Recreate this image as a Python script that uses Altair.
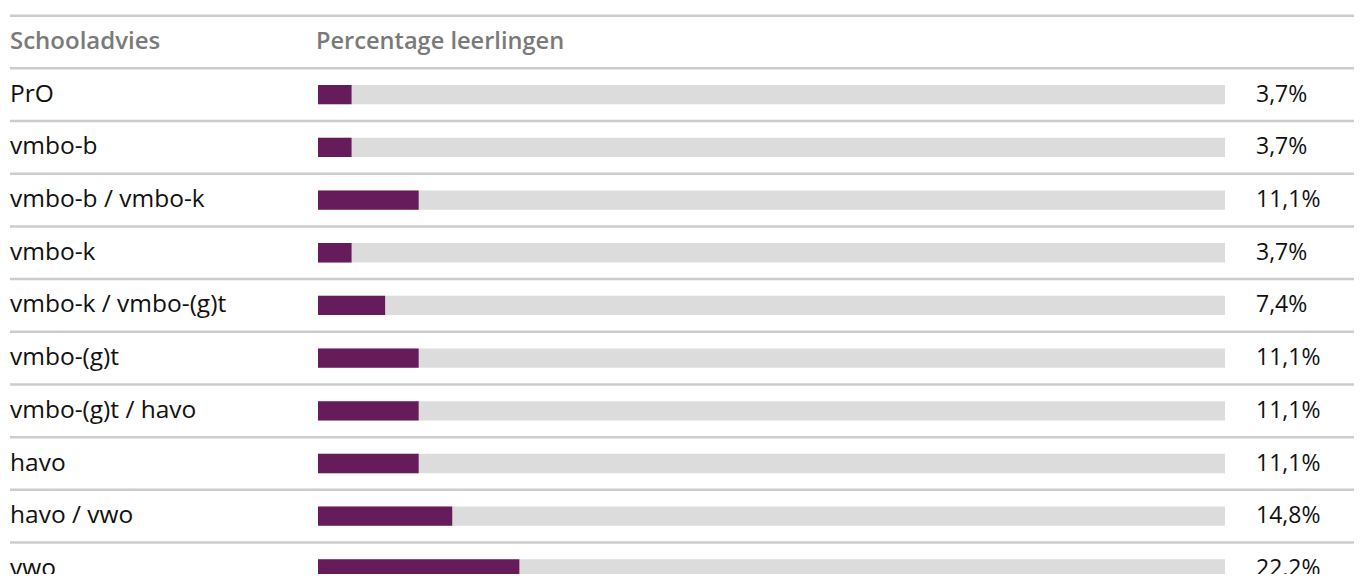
import altair as alt
import pandas as pd

categories = ["PrO", "vmbo-b", "vmbo-b / vmbo-k", "vmbo-k", "vmbo-k / vmbo-(g)t",
              "vmbo-(g)t", "vmbo-(g)t / havo", "havo", "havo / vwo", "vwo"]
values = [3.7, 3.7, 11.1, 3.7, 7.4, 11.1, 11.1, 11.1, 14.8, 22.2]
value_labels = ["3,7%", "3,7%", "11,1%", "3,7%", "7,4%", "11,1%", "11,1%", "11,1%", "14,8%", "22,2%"]
headers = ["Schooladvies", "Percentage leerlingen"]

df = pd.DataFrame({
    "cat": categories,
    "value": values,
    "label": value_labels,
    "row": list(range(1, len(categories) + 1)),
})
df["full"] = 100.0

lines = pd.DataFrame({"pos": [i - 0.5 for i in range(0, len(categories) + 1)]})
hdr = pd.DataFrame({"text": headers, "row": [0, 0], "col": [0, 1]})

FONT = "Open Sans"
yscale = alt.Scale(domain=[0, 10], range=[29.0, 565.9])
xscale = alt.Scale(domain=[0, 100], range=[310, 1217])
Y = alt.Y("row:Q", scale=yscale, axis=None)

base = alt.Chart(df)

bg = base.mark_bar(orient="horizontal", size=19.3, color="#dcdcdc").encode(
    x=alt.X("full:Q", scale=xscale, axis=None), y=Y)
fg = base.mark_bar(orient="horizontal", size=19.3, color="#661c5a").encode(
    x=alt.X("value:Q", scale=xscale, axis=None), y=Y)

cat_text = base.mark_text(align="left", baseline="middle", font=FONT, fontSize=24.5,
                          color="#111111").encode(x=alt.value(2), y=Y, text="cat:N")
val_text = base.mark_text(align="left", baseline="middle", font=FONT, fontSize=23,
                          color="#111111").encode(x=alt.value(1248), y=Y, text="label:N")

hdr_chart = alt.Chart(hdr)
hdr1 = hdr_chart.transform_filter("datum.col == 0").mark_text(
    align="left", baseline="middle", font=FONT, fontSize=24, fontWeight=600,
    color="#7a7a7a").encode(x=alt.value(2), y=Y, text="text:N")
hdr2 = hdr_chart.transform_filter("datum.col == 1").mark_text(
    align="left", baseline="middle", font=FONT, fontSize=23.6, fontWeight=600,
    color="#7a7a7a").encode(x=alt.value(308), y=Y, text="text:N")

rules = alt.Chart(lines).mark_rule(color="#cccccc", strokeWidth=2.5).encode(
    y=alt.Y("pos:Q", scale=yscale, axis=None), x=alt.value(2), x2=alt.value(1346))

chart = alt.layer(rules, bg, fg, cat_text, val_text, hdr1, hdr2).properties(
    width=1346, height=566, padding=0,
    autosize=alt.AutoSizeParams(type="none"),
).configure_view(stroke=None)

chart.save("out.html", embed_options={"renderer": "svg", "actions": False})
